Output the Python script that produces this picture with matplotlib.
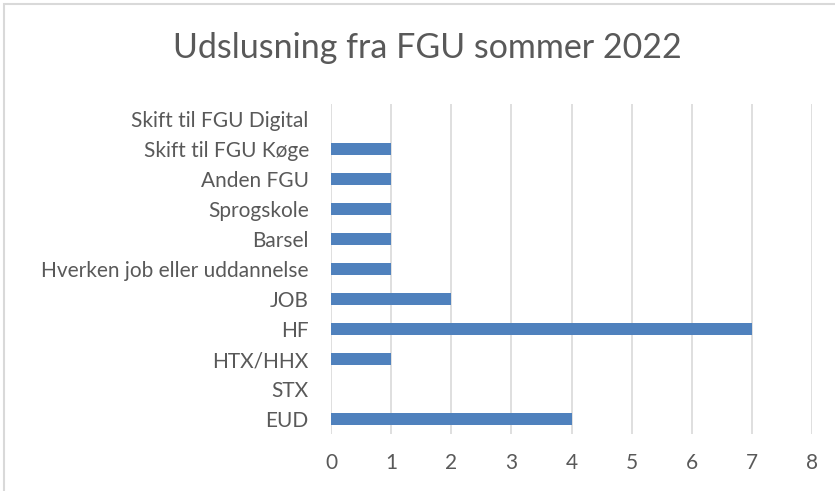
import matplotlib.pyplot as plt
from matplotlib.patches import Rectangle

kategorier = ['EUD', 'STX', 'HTX/HHX', 'HF', 'JOB', 'Hverken job eller uddannelse',
              'Barsel', 'Sprogskole', 'Anden FGU', 'Skift til FGU Køge', 'Skift til FGU Digital']
antal = [4, 0, 1, 7, 2, 1, 1, 1, 1, 1, 0]

plt.rcParams['font.family'] = ['Lato', 'DejaVu Sans']
tekst = '#595959'

fig = plt.figure(figsize=(8.35, 4.91), dpi=100)
ax = fig.add_axes([331 / 835, 1 - 434 / 491, 481 / 835, 330 / 491])

ax.barh(range(len(kategorier)), antal, height=0.4, color='#4F81BD', zorder=3)

ax.set_xlim(0, 8)
ax.set_ylim(-0.5, len(kategorier) - 0.5)
ax.set_xticks(range(0, 9))
ax.set_yticks(range(len(kategorier)))
ax.set_yticklabels(kategorier)
ax.tick_params(axis='both', length=0, labelsize=15, colors=tekst)
ax.tick_params(axis='y', pad=16)
ax.tick_params(axis='x', pad=14)
ax.grid(axis='x', color='#D9D9D9', linewidth=1.2, zorder=0)
for s in ax.spines.values():
    s.set_visible(False)

fig.text(427 / 835, 1 - 48 / 491, 'Udslusning fra FGU sommer 2022',
         ha='center', va='center', fontsize=24.5, color=tekst)

fig.patches.append(Rectangle((4 / 835, -0.1), 1.2, 1 - 4 / 491 + 0.1, transform=fig.transFigure,
                             fill=False, edgecolor='#D9D9D9', linewidth=1.5))

fig.savefig('out.png', dpi=100)
